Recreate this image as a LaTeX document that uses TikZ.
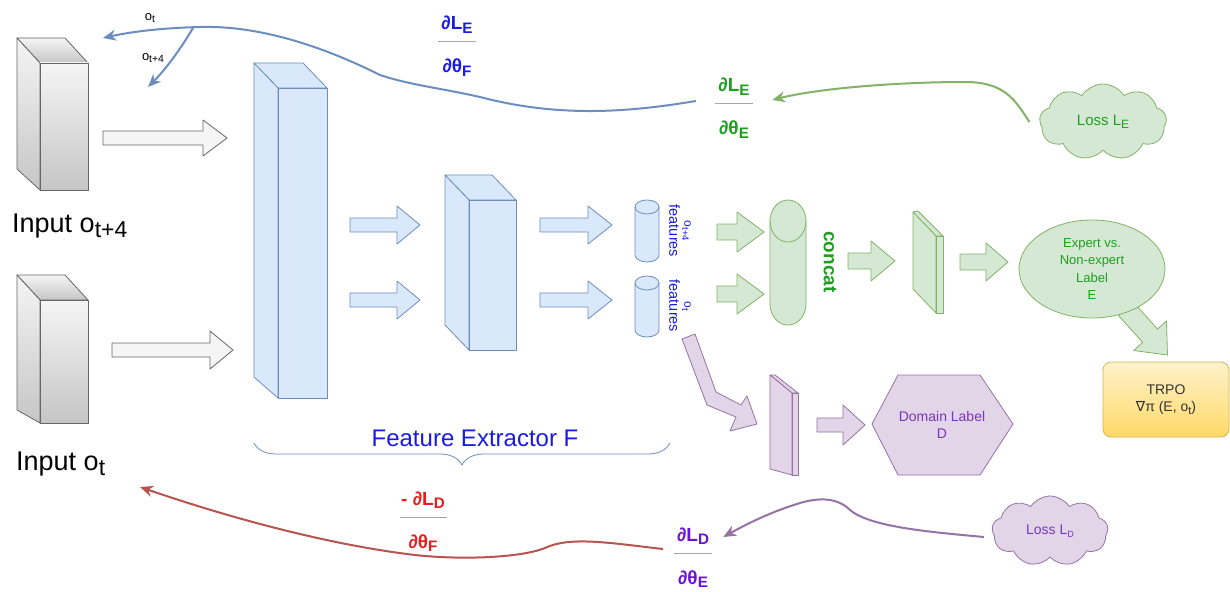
\documentclass[tikz,border=0pt]{standalone}
\usepackage{graphicx}
\usepackage{fontspec}
\setmainfont{Liberation Sans}
\newfontfamily\symfont{DejaVu Sans}
\usetikzlibrary{shapes.geometric,shapes.symbols,arrows.meta,decorations.pathreplacing}

\definecolor{blueFill}{HTML}{DAE8FC}
\definecolor{blueLine}{HTML}{6C8EBF}
\definecolor{greenFill}{HTML}{D5E8D4}
\definecolor{greenLine}{HTML}{82B366}
\definecolor{purpleFill}{HTML}{E1D5E7}
\definecolor{purpleLine}{HTML}{9673A6}
\definecolor{grayFill}{HTML}{F5F5F5}
\definecolor{grayLine}{HTML}{666666}
\definecolor{redLine}{HTML}{B85450}
\definecolor{txtBlue}{HTML}{1A1AE6}
\definecolor{txtGreen}{HTML}{1E9E1E}
\definecolor{txtRed}{HTML}{E61E1E}
\definecolor{txtPurple}{HTML}{6A12D6}
\definecolor{txtViolet}{HTML}{7A35C0}
\definecolor{trpoTop}{HTML}{FFF2CC}
\definecolor{trpoBot}{HTML}{FFD966}
\definecolor{trpoLine}{HTML}{D6B656}

% lowered, slightly smaller index text
\newcommand\lowr[2][0.8]{\raisebox{-0.35ex}{\scalebox{#1}{#2}}}

% cuboid: face style, front x1 y1 x2 y2, depth dx, depth dy at top, depth dy at bottom
\newcommand\cuboid[8]{%
  \draw[#1] (#2,#3) -- (#2-#6,#3-#7) -- (#4-#6,#3-#7) -- (#4,#3) -- cycle;
  \draw[#1] (#2,#3) -- (#2-#6,#3-#7) -- (#2-#6,#5-#8) -- (#2,#5) -- cycle;
  \draw[#1] (#2,#3) rectangle (#4,#5);
}

% block arrow: style, tail x, tip x, centre y, shaft half height, head half height, head length
\newcommand\blockarrow[7]{%
  \draw[#1] (#2,#4-#5) -- (#3-#7,#4-#5) -- (#3-#7,#4-#6) -- (#3,#4)
    -- (#3-#7,#4+#6) -- (#3-#7,#4+#5) -- (#2,#4+#5) -- cycle;
}

% cylinder: style, centre x, y of top ellipse, y of bottom ellipse, x radius, y radius
\newcommand\cyl[6]{%
  \draw[#1] (#2-#5,#3) -- (#2-#5,#4)
    arc[start angle=180,end angle=360,x radius=#5pt,y radius=#6pt]
    -- (#2+#5,#3)
    arc[start angle=0,end angle=180,x radius=#5pt,y radius=#6pt] -- cycle;
  \draw[#1,fill=none] (#2-#5,#3)
    arc[start angle=180,end angle=360,x radius=#5pt,y radius=#6pt];
}

% gradient fraction: name, x, y, colour, numerator, denominator, rule width, box width
\newcommand\fracnode[8]{%
  \node[minimum width=#8pt,minimum height=40pt,inner sep=0pt] (#1) at (#2,#3) {};
  \draw[fracrule] ([xshift=-#7pt/2]#1.center) -- ([xshift=#7pt/2]#1.center);
  \node[fractext,text=#4,anchor=base] (#1-num) at ([yshift=12pt]#1.center) {#5};
  \node[fractext,text=#4,anchor=base] (#1-den) at ([yshift=-31pt]#1.center) {#6};
}

\begin{document}
\begin{tikzpicture}[x=1pt,y=-1pt,
  line join=round,
  grayface/.style={draw=grayLine,line width=0.8pt,top color=gray!8,bottom color=gray!45},
  blueface/.style={draw=blueLine,line width=0.8pt,fill=blueFill},
  greenface/.style={draw=greenLine,line width=0.8pt,fill=greenFill},
  purpleface/.style={draw=purpleLine,line width=0.8pt,fill=purpleFill},
  grayarrow/.style={draw=grayLine,line width=0.8pt,fill=grayFill},
  bluearrow/.style={draw=blueLine,line width=0.8pt,fill=blueFill},
  greenarrow/.style={draw=greenLine,line width=0.8pt,fill=greenFill},
  purplearrow/.style={draw=purpleLine,line width=0.8pt,fill=purpleFill},
  fracrule/.style={draw=gray!70,line width=1pt},
  fractext/.style={font=\fontsize{19}{20}\selectfont\bfseries,inner sep=0pt},
  gradcurve/.style={line width=2pt,-{Stealth[length=13pt,width=11pt]}},
  smalltxt/.style={inner sep=0pt,align=center},
  losscloud/.style={cloud,cloud puffs=9,cloud puff arc=115,aspect=1.7,inner sep=0pt},
]
\useasboundingbox (0,0) rectangle (1230,591);
\fill[white] (0,0) rectangle (1230,591);

% ---- inputs ----
\cuboid{grayface}{40}{63}{88}{190}{23}{25}{21}
\cuboid{grayface}{40}{300}{88}{423}{23}{25}{13}
\node[anchor=west,inner sep=0pt,font=\fontsize{27}{30}\selectfont] (in4) at (12,226) {Input o\lowr[0.85]{t+4}};
\node[anchor=west,inner sep=0pt,font=\fontsize{27}{30}\selectfont] (in0) at (16,464) {Input o\lowr[0.85]{t}};

\blockarrow{grayarrow}{103}{227}{138}{7}{18}{24}
\blockarrow{grayarrow}{112}{233}{350}{7}{19}{23}

% ---- feature extractor ----
\cuboid{blueface}{278}{88}{327}{398}{24}{25}{21}
\cuboid{blueface}{469}{200}{516}{350}{24}{25}{25}

\blockarrow{bluearrow}{350}{420}{225}{7}{19}{23}
\blockarrow{bluearrow}{350}{420}{300}{7}{19}{23}
\blockarrow{bluearrow}{540}{612}{225}{7}{19}{24}
\blockarrow{bluearrow}{540}{612}{300}{7}{19}{24}

\cyl{blueface}{647}{207}{255}{12}{7}
\cyl{blueface}{647}{283}{330}{12}{7}
\node[smalltxt,rotate=-90,text=txtBlue,font=\fontsize{14.5}{15}\selectfont] (feat4) at (680,231)
  {{\fontsize{12}{13}\selectfont o\lowr{t+4}}\\features};
\node[smalltxt,rotate=-90,text=txtBlue,font=\fontsize{14.5}{15}\selectfont] (feat0) at (680,306)
  {{\fontsize{12}{13}\selectfont o\lowr{t}}\\features};

\draw[draw=blueLine,line width=0.8pt,decorate,decoration={brace,mirror,amplitude=22pt}]
  (254,443) -- (670,443);
\node[text=txtBlue,inner sep=0pt,font=\fontsize{24}{26}\selectfont] (fe) at (475,438) {Feature Extractor F};

% ---- expert branch ----
\blockarrow{greenarrow}{717}{764}{232}{8}{20}{27}
\blockarrow{greenarrow}{717}{764}{294}{8}{20}{27}
\cyl{greenface}{788}{221}{304}{18}{21}
\node[rotate=-90,text=txtGreen,inner sep=0pt,font=\fontsize{19}{20}\selectfont\bfseries] (concat) at (830,262) {concat};
\blockarrow{greenarrow}{848}{895}{261}{8}{20}{24}
\draw[greenface] (913,212) -- (918,211) -- (943,236) -- (936,236) -- cycle;
\draw[greenface] (913,212) -- (936,236) -- (936,313) -- (913,289) -- cycle;
\draw[greenface] (936,236) rectangle (943,313);
\blockarrow{greenarrow}{960}{1008}{262}{8}{19}{22}

\begin{scope}[shift={(1126,309)},rotate=-48]
  \blockarrow{greenarrow}{0}{62}{0}{10}{22}{26}
\end{scope}
\node[ellipse,greenface,minimum width=146pt,minimum height=98pt,inner sep=0pt,
      align=center,text=txtGreen,font=\fontsize{13}{17.5}\selectfont] (E) at (1092,269)
  {Expert vs.\\Non-expert\\Label\\E};

\node[draw=trpoLine,line width=0.8pt,top color=trpoTop,bottom color=trpoBot,rounded corners=8pt,
      minimum width=126pt,minimum height=75pt,align=center,text=black!80,
      font=\fontsize{14}{17}\selectfont] (trpo) at (1166,399.5)
  {TRPO\\{\symfont ∇}π (E, o\lowr{t})};

\node[losscloud,greenface,minimum width=127pt,minimum height=76pt,
      text=txtGreen,font=\fontsize{15}{16}\selectfont] (LE) at (1103,122) {Loss L\lowr{E}};

% ---- domain branch ----
\draw[purplearrow] (682,339) -- (695,334) -- (716,392) -- (741,405) -- (747,396) -- (757,424)
  -- (730,431) -- (736,417) -- (707,405) -- cycle;
\draw[purpleface] (770,375) -- (775,375) -- (798,393) -- (792,393) -- cycle;
\draw[purpleface] (770,375) -- (792,393) -- (792,475) -- (770,469) -- cycle;
\draw[purpleface] (792,393) rectangle (798,475);
\blockarrow{purplearrow}{817}{865}{425}{7}{20}{22}
\draw[purpleface] (872,424) -- (898,375) -- (980,375) -- (1013,424) -- (980,475) -- (898,475) -- cycle;
\node[align=center,text=txtViolet,font=\fontsize{14}{17}\selectfont] (D) at (942,425) {Domain Label\\D};

\node[losscloud,purpleface,minimum width=116pt,minimum height=70pt,
      text=txtViolet,font=\fontsize{14}{15}\selectfont] (LD) at (1050,531) {Loss L\lowr[0.65]{D}};

% ---- gradient labels ----
\fracnode{dEF}{457}{42}{txtBlue}{∂L\lowr{E}}{∂θ\lowr{F}}{38}{40}
\fracnode{dEE}{734}{104}{txtGreen}{∂L\lowr{E}}{∂θ\lowr{E}}{38}{76}
\fracnode{dDF}{423}{517}{txtRed}{- ∂L\lowr{D}}{∂θ\lowr{F}}{47}{50}
\fracnode{dDE}{693}{553}{txtPurple}{∂L\lowr{D}}{∂θ\lowr{E}}{38}{60}

\coordinate (ot-tip) at (103,38);
\coordinate (ot4-tip) at (148,87);
\coordinate (split) at (193,28);
\coordinate (in-tip) at (140,487);
\node[font=\fontsize{13}{14}\selectfont,inner sep=0pt] (lot) at (150,18) {o\lowr{t}};
\node[font=\fontsize{13}{14}\selectfont,inner sep=0pt] (lot4) at (153,58) {o\lowr{t+4}};

% ---- gradient flows ----
\draw[gradcurve,draw=greenLine,fill=none] ([xshift=-10pt]LE.west)
  .. controls (1015,100) and (1005,82) .. (965,82)
  .. controls (900,82) and (820,88) .. ([yshift=4pt]dEE.east);
\draw[gradcurve,draw=blueLine,fill=none] ([yshift=3pt]dEE.west)
  .. controls (630,112) and (560,118) .. (480,97)
  .. controls (440,88) and (410,85) .. (380,75)
  .. controls (340,55) and (270,25) .. (200,27)
  .. controls (160,28) and (130,32) .. (ot-tip);
\draw[gradcurve,draw=blueLine,fill=none] (split) .. controls (180,50) and (165,70) .. (ot4-tip);
\draw[gradcurve,draw=purpleLine,fill=none] ([xshift=-8pt,yshift=-6pt]LD.west)
  .. controls (930,532) and (870,527) .. (850,510)
  .. controls (838,498) and (820,497) .. (800,503)
  .. controls (770,512) and (745,525) .. ([yshift=16pt]dDE.east);
\draw[gradcurve,draw=redLine,fill=none] ([yshift=4pt]dDE.west)
  .. controls (610,543) and (570,536) .. (545,548)
  .. controls (520,558) and (460,560) .. (415,555)
  .. controls (330,545) and (230,518) .. (in-tip);
\end{tikzpicture}
\end{document}
